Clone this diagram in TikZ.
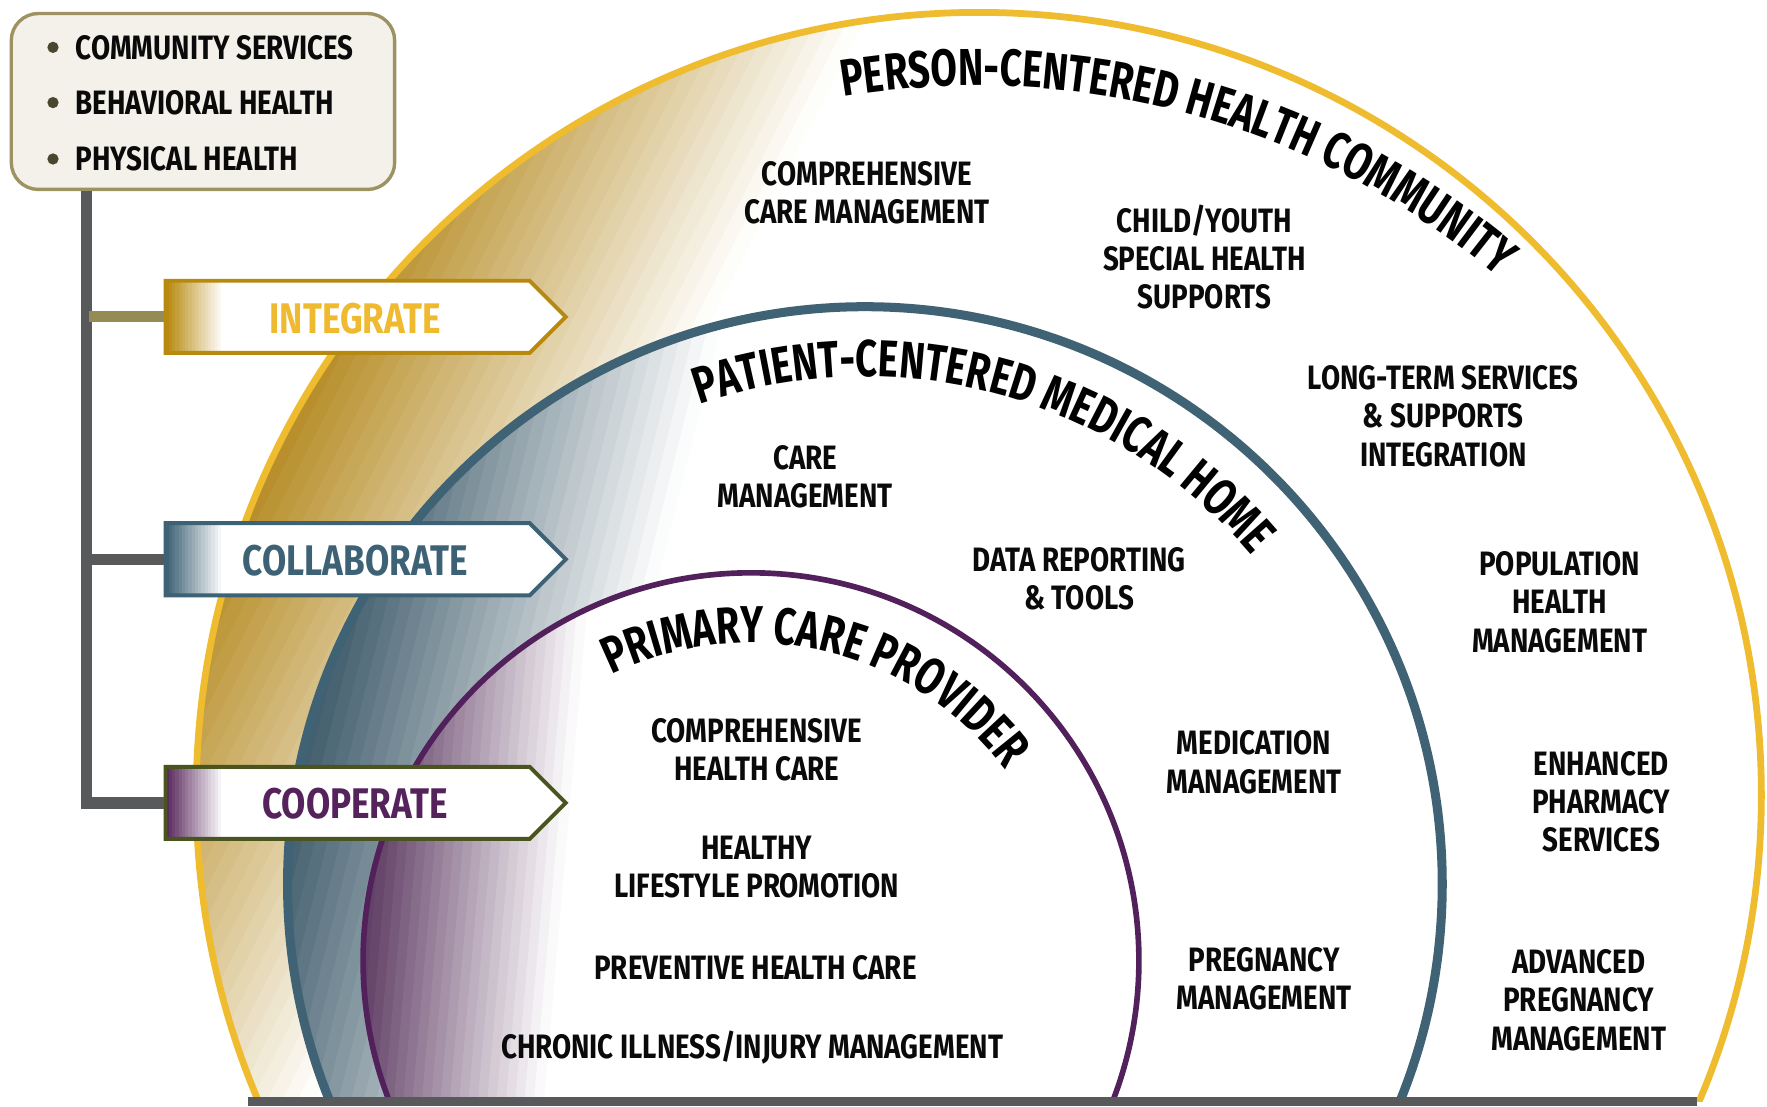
\documentclass[tikz,border=0pt]{standalone}
\usepackage{fontspec}
\setmainfont{Fira Sans}[FakeStretch=0.82]
\newfontfamily\titlefam{Fira Sans}[FakeStretch=0.74]
\usetikzlibrary{decorations.text,shapes.symbols}
\definecolor{ygold}{HTML}{B68D27}
\definecolor{yline}{HTML}{EFBB2F}
\definecolor{bslate}{HTML}{44606F}
\definecolor{bline}{HTML}{3F6274}
\definecolor{ppurp}{HTML}{634268}
\definecolor{pline}{HTML}{52215B}
\definecolor{barc}{HTML}{58595B}
\definecolor{boxfill}{HTML}{F3F1E9}
\definecolor{boxline}{HTML}{9D9262}
\definecolor{bul}{HTML}{4A4630}
\definecolor{stubk}{HTML}{958B55}
\definecolor{tagi}{HTML}{B7890F}
\definecolor{tagitext}{HTML}{F0BA30}
\definecolor{tagc}{HTML}{3E6275}
\definecolor{tago}{HTML}{49541F}
\definecolor{tagotext}{HTML}{55225C}
\definecolor{tagograd}{HTML}{5A2A5E}
\definecolor{ink}{HTML}{0A0A0A}
\newcommand\bodyf{\fontsize{30}{34}\selectfont\bfseries}
\newcommand\tagf{\fontsize{38}{38}\selectfont\bfseries}
\newcommand\titlef{\titlefam\fontsize{46}{46}\selectfont\bfseries}
% band polygon between projections #1 and #2 along direction (#3,#4) (display coords)
\newcommand\bandpoly[5]{\fill[#5] ({(#1)*(#3)-1500*(#4)},{981-(#1)*(#4)-1500*(#3)}) -- ({(#1)*(#3)+1500*(#4)},{981-(#1)*(#4)+1500*(#3)}) -- ({(#2)*(#3)+1500*(#4)},{981-(#2)*(#4)+1500*(#3)}) -- ({(#2)*(#3)-1500*(#4)},{981-(#2)*(#4)-1500*(#3)}) -- cycle;}
\newcommand\shadebands[6]{%
  \bandpoly{-2000}{#4+0.5}{#2}{#3}{#1}%
  \foreach \i in {1,...,#6}{%
    \pgfmathsetmacro\pa{#4+(\i-1)*(#5-#4)/#6}%
    \pgfmathsetmacro\pb{#4+\i*(#5-#4)/#6+0.6}%
    \pgfmathsetmacro\tv{100*(1-(\i-0.5)/#6)}%
    \bandpoly{\pa}{\pb}{#2}{#3}{#1!\tv!white}%
  }%
}
\begin{document}
\begin{tikzpicture}[x=1pt,y=1pt,
  lbl/.style={font=\bodyf, align=center, inner sep=0, text=ink},
  lst/.style={font=\bodyf, anchor=west, inner sep=0, text=ink},
  tag/.style={signal, signal to=east, signal pointer angle=90, minimum width=355, minimum height=64, line width=3.5, fill=white, inner sep=0, anchor=west},
  tagshade/.style={path picture={\foreach \k in {0,...,17}{\pgfmathsetmacro\tv{100*(1-\k/17)}\fill[#1!\tv!white] ([xshift=\k*2.9]path picture bounding box.south west) rectangle ([xshift=\k*2.9+3.2]path picture bounding box.north west);}}},
  taglbl/.style={font=\tagf, inner sep=0},
  conn/.style={barc, line width=10}]
\useasboundingbox (0,0) rectangle (1567,981);
\fill[white] (0,0) rectangle (1567,981);
\begin{scope}
  \clip (0,4) rectangle (1567,981);
  \begin{scope}
    \clip (868,276) circle[radius=694];
    \shadebands{ygold}{0.891}{0.454}{400}{690}{24}
  \end{scope}
  \begin{scope}
    \clip (767,197) circle[radius=512];
    \fill[white] (0,0) rectangle (1567,981);
    \shadebands{bslate}{0.970}{0.242}{430}{690}{24}
  \end{scope}
  \begin{scope}
    \clip (666,129) circle[radius=344];
    \fill[white] (0,0) rectangle (1567,981);
    \shadebands{ppurp}{0.996}{0.087}{400}{565}{20}
  \end{scope}
  \draw[yline, line width=6] (868,276) circle[radius=694];
  \draw[bline, line width=8] (767,197) circle[radius=512];
  \draw[pline, line width=5] (666,129) circle[radius=344];
\end{scope}
\fill[barc] (220,0) rectangle (1505,8);

% curved titles
\path[decorate,decoration={text along path,text align=center,text={|\titlef|PERSON-CENTERED HEALTH COMMUNITY}}]
  ([shift={(134.6:714)}]866,191) arc[start angle=134.6,end angle=14.6,radius=714];
\path[decorate,decoration={text along path,text align=center,text={|\titlef|PATIENT-CENTERED MEDICAL HOME}}]
  ([shift={(134.7:450)}]767,197) arc[start angle=134.7,end angle=14.7,radius=450];
\path[decorate,decoration={text along path,text align=center,text={|\titlef|PRIMARY CARE PROVIDER}}]
  ([shift={(136.5:282)}]666,129) arc[start angle=136.5,end angle=16.5,radius=282];

% category box
\node[draw=boxline, fill=boxfill, line width=3, rounded corners=24, minimum width=340, minimum height=156, inner sep=0] (cats) at (180,891) {};
\fill[bul] (47,939) circle[radius=5];
\fill[bul] (47,890) circle[radius=5];
\fill[bul] (47,840) circle[radius=5];
\node[lst] (cs) at (67,939) {COMMUNITY SERVICES};
\node[lst] (bh) at (67,890) {BEHAVIORAL HEALTH};
\node[lst] (ph) at (67,840) {PHYSICAL HEALTH};

% tags
\node[tag, draw=tagi, tagshade=tagi] (integ) at (145,700) {};
\node[tag, draw=tagc, tagshade=tagc] (collab) at (145,485) {};
\node[tag, draw=tago, tagshade=tagograd] (coop) at (145,269) {};
\node[taglbl, text=tagitext] (integl) at (315,698) {INTEGRATE};
\node[taglbl, text=tagc] (collabl) at (315,484) {COLLABORATE};
\node[taglbl, text=tagotext] (coopl) at (315,268) {COOPERATE};

% connectors
\coordinate (trunk) at ([xshift=68]cats.south west);
\draw[conn] (trunk) |- (coop.west);
\draw[conn] (trunk |- collab.west) -- (collab.west);
\draw[stubk, line width=10] ([xshift=2]trunk |- integ.west) -- (integ.west);

% labels
\node[lbl] (ccm) at (769,810) {COMPREHENSIVE\\CARE MANAGEMENT};
\node[lbl] (cys) at (1068,753) {CHILD/YOUTH\\SPECIAL HEALTH\\SUPPORTS};
\node[lbl] (lts) at (1280,612) {LONG-TERM SERVICES\\\& SUPPORTS\\INTEGRATION};
\node[lbl] (phm) at (1383,447) {POPULATION\\HEALTH\\MANAGEMENT};
\node[lbl] (eps) at (1420,270) {ENHANCED\\PHARMACY\\SERVICES};
\node[lbl] (apm) at (1400,94) {ADVANCED\\PREGNANCY\\MANAGEMENT};
\node[lbl] (cm) at (714,558) {CARE\\MANAGEMENT};
\node[lbl] (drt) at (957,468) {DATA REPORTING\\\& TOOLS};
\node[lbl] (mm) at (1112,305) {MEDICATION\\MANAGEMENT};
\node[lbl] (pm) at (1121,113) {PREGNANCY\\MANAGEMENT};
\node[lbl] (chc) at (671,316) {COMPREHENSIVE\\HEALTH CARE};
\node[lbl] (hlp) at (671,212) {HEALTHY\\LIFESTYLE PROMOTION};
\node[lbl] (phc) at (670,123) {PREVENTIVE HEALTH CARE};
\node[lbl] (cim) at (667,52) {CHRONIC ILLNESS/INJURY MANAGEMENT};
\end{tikzpicture}
\end{document}
